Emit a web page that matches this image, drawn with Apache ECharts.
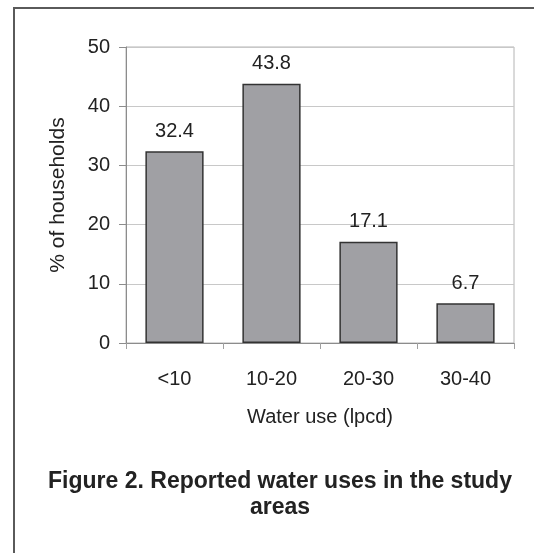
<!DOCTYPE html>
<html>
<head>
<meta charset="utf-8">
<script src="https://cdn.jsdelivr.net/npm/echarts@6/dist/echarts.min.js"></script>
<style>
  html, body { margin: 0; padding: 0; background: #fff; }
  #chart { width: 534px; height: 553px; }
</style>
</head>
<body>
<div id="chart"></div>
<script>
const categories = ['<10', '10-20', '20-30', '30-40'];
const householdsPct = [32.4, 43.8, 17.1, 6.7];
const yTicks = { min: 0, max: 50, interval: 10 };
const xAxisTitle = 'Water use (lpcd)';
const yAxisTitle = '% of households';
const figureTitle = 'Figure 2. Reported water uses in the study\nareas';

const FONT = '"Liberation Sans", Arial, sans-serif';
const chart = echarts.init(document.getElementById('chart'), null, { renderer: 'canvas' });
chart.setOption({
  animation: false,
  backgroundColor: '#ffffff',
  textStyle: { fontFamily: FONT },
  title: {
    text: figureTitle,
    left: 275,
    top: 464,
    textAlign: 'center',
    textStyle: { fontFamily: FONT, fontWeight: 'bold', fontSize: 23, lineHeight: 26, color: '#222' }
  },
  graphic: [
    { type: 'line', shape: { x1: 14, y1: 7, x2: 14, y2: 553 }, style: { stroke: '#5a5a5a', lineWidth: 2 } },
    { type: 'line', shape: { x1: 13, y1: 8, x2: 534, y2: 8 }, style: { stroke: '#5a5a5a', lineWidth: 2 } }
  ],
  grid: { left: 126, right: 20, top: 47, bottom: 210, show: true, borderColor: '#b4b4b4', borderWidth: 1, containLabel: false },
  xAxis: {
    type: 'category',
    data: categories,
    name: xAxisTitle,
    nameLocation: 'middle',
    nameGap: 64,
    nameTextStyle: { fontFamily: FONT, fontSize: 20, color: '#222' },
    axisLine: { lineStyle: { color: '#8c8c8c', width: 1 } },
    axisTick: { show: true, alignWithLabel: false, length: 6, lineStyle: { color: '#a0a0a0' } },
    axisLabel: { margin: 26, fontFamily: FONT, fontSize: 20, color: '#222' },
    splitLine: { show: false }
  },
  yAxis: {
    type: 'value',
    min: yTicks.min,
    max: yTicks.max,
    interval: yTicks.interval,
    name: yAxisTitle,
    nameLocation: 'middle',
    nameGap: 57,
    nameTextStyle: { fontFamily: FONT, fontSize: 21, color: '#222' },
    axisLine: { show: true, lineStyle: { color: '#8c8c8c', width: 1 } },
    axisTick: { show: true, length: 7, lineStyle: { color: '#8c8c8c' } },
    axisLabel: { margin: 16, fontFamily: FONT, fontSize: 20, color: '#222' },
    splitLine: { show: true, lineStyle: { color: '#c8c8c8', width: 1 } }
  },
  series: [{
    type: 'bar',
    data: householdsPct,
    barWidth: '60%',
    itemStyle: { color: '#a0a0a4', borderColor: '#333333', borderWidth: 1.5 },
    label: {
      show: true,
      position: 'top',
      distance: 10,
      fontFamily: FONT,
      fontSize: 20,
      color: '#222',
      formatter: p => p.value.toFixed(1)
    }
  }]
});
</script>
</body>
</html>
